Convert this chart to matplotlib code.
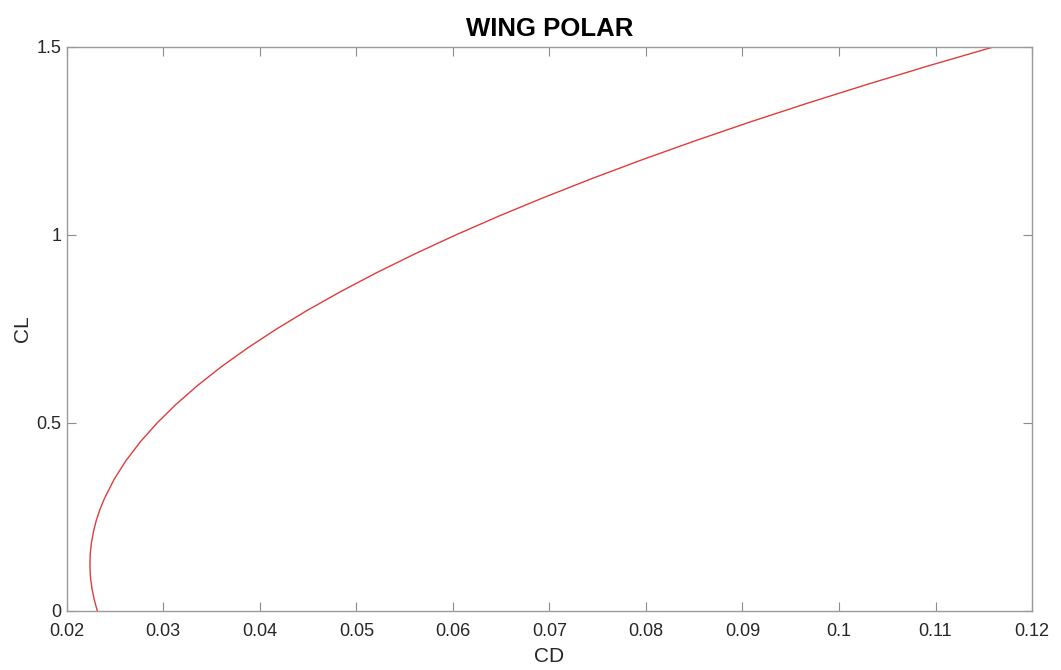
import matplotlib
matplotlib.use('Agg')
from matplotlib import pyplot as plt

# lift coefficient
cl_values = [0.00, 0.03, 0.06, 0.09, 0.12, 0.15, 0.18, 0.21, 0.24, 0.27,
             0.30, 0.35, 0.40, 0.45, 0.50, 0.55, 0.60, 0.65, 0.70, 0.75,
             0.80, 0.85, 0.90, 0.95, 1.00, 1.05, 1.10, 1.15, 1.20, 1.25,
             1.30, 1.35, 1.40, 1.45, 1.50]
# drag coefficient at each lift coefficient
cd_values = [0.02317, 0.02285, 0.02261, 0.02246, 0.02240, 0.02243, 0.02255,
             0.02276, 0.02305, 0.02344, 0.02392, 0.02491, 0.02614, 0.02763,
             0.02936, 0.03134, 0.03357, 0.03604, 0.03877, 0.04174, 0.04495,
             0.04842, 0.05213, 0.05609, 0.06030, 0.06475, 0.06946, 0.07441,
             0.07960, 0.08505, 0.09074, 0.09668, 0.10287, 0.10930, 0.11599]

x_ticks = [0.02, 0.03, 0.04, 0.05, 0.06, 0.07, 0.08, 0.09, 0.1, 0.11, 0.12]
x_tick_labels = ['0.02', '0.03', '0.04', '0.05', '0.06', '0.07', '0.08',
                 '0.09', '0.1', '0.11', '0.12']
y_ticks = [0, 0.5, 1, 1.5]
y_tick_labels = ['0', '0.5', '1', '1.5']

plt.rcParams['font.family'] = ['Liberation Sans', 'DejaVu Sans']

figure = plt.figure(figsize=(10.61, 6.70), dpi=100)
axes = figure.add_axes([0.0629, 0.0881, 0.9098, 0.8418])

axes.plot(cd_values, cl_values, color='#e03c3c', linewidth=1.0)

axes.set_xlim(0.02, 0.12)
axes.set_ylim(0, 1.5)
axes.set_xticks(x_ticks)
axes.set_xticklabels(x_tick_labels)
axes.set_yticks(y_ticks)
axes.set_yticklabels(y_tick_labels)

axes.tick_params(direction='in', length=6.8, width=0.8, color='#8c8c8c',
                 labelcolor='#262626', labelsize=13, top=True, right=True)
axes.tick_params(axis='x', pad=9)
axes.tick_params(axis='y', pad=4)
for spine in axes.spines.values():
    spine.set_color('#9a9a9a')
    spine.set_linewidth(1.0)

axes.set_xlabel('CD', fontsize=15, color='#262626', labelpad=5)
axes.set_ylabel('CL', fontsize=15, color='#262626', labelpad=3)
axes.set_title('WING POLAR', fontsize=18.5, fontweight='bold', pad=8)

figure.savefig('out.png', dpi=100)
